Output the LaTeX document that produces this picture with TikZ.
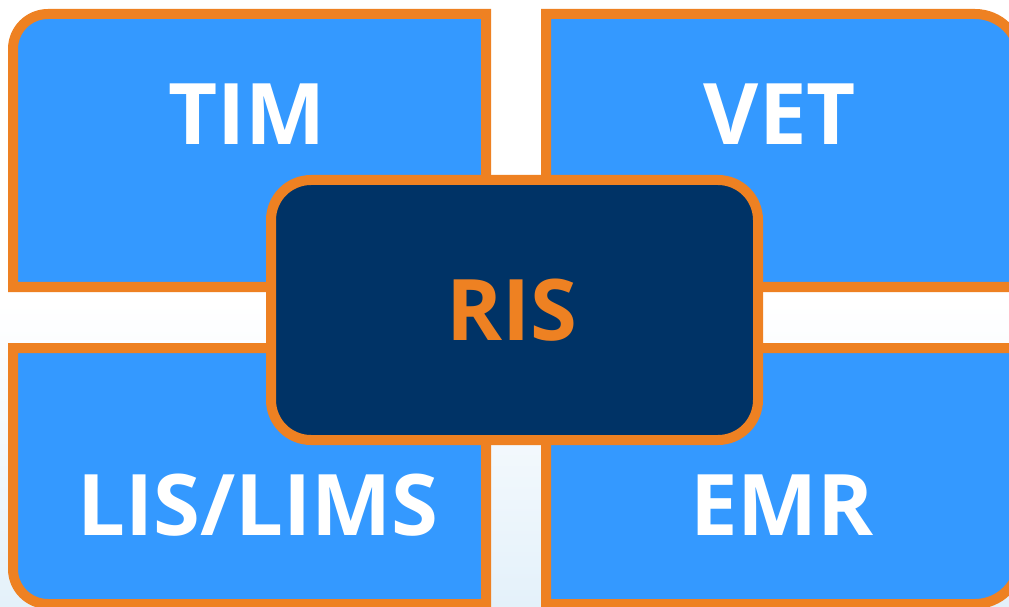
\documentclass[tikz,border=0pt]{standalone}
\usepackage{fontspec}
\setmainfont{Open Sans}
\definecolor{boxblue}{RGB}{52,153,255}
\definecolor{frameorange}{RGB}{238,129,34}
\definecolor{navy}{RGB}{0,51,102}
\definecolor{bgblue}{RGB}{228,241,250}
\begin{document}
\begin{tikzpicture}[x=1pt,y=1pt,
  box/.style={draw=frameorange,fill=boxblue,line width=10pt,line join=miter},
  lbl/.style={anchor=base,text=white,font=\fontsize{85}{85}\selectfont\bfseries,inner sep=0pt},
  center box/.style={draw=frameorange,fill=navy,line width=10pt,rounded corners=40pt,
    minimum width=487pt,minimum height=260pt,inner sep=0pt},
]
\useasboundingbox (0,0) rectangle (1009,606);
\clip (0,0) rectangle (1009,606);
\shade[top color=white,bottom color=bgblue,middle color=white] (0,0) rectangle (1009,606);
% quadrant boxes
\draw[box] (486,319) -- (13,319) -- (13,557) arc[start angle=180,end angle=90,radius=35] -- (486,592) -- cycle;
\draw[box] (546,319) -- (546,592) -- (975,592) arc[start angle=90,end angle=0,radius=45] -- (1020,319) -- cycle;
\draw[box] (486,258) -- (13,258) -- (13,37) arc[start angle=180,end angle=270,radius=35] -- (486,2) -- cycle;
\draw[box] (546,258) -- (1020,258) -- (1020,47) arc[start angle=0,end angle=-90,radius=45] -- (546,2) -- cycle;
% labels
\node[lbl] (tim) at (247,461) {TIM};
\node[lbl] (vet) at (780,461) {VET};
\node[lbl] (lis) at (258,71) {LIS/LIMS};
\node[lbl] (emr) at (782,71) {EMR};
% center box
\node[center box] (risbox) at (514.5,296) {};
\node[lbl,text=frameorange] (ris) at (512,266) {RIS};
\end{tikzpicture}
\end{document}
